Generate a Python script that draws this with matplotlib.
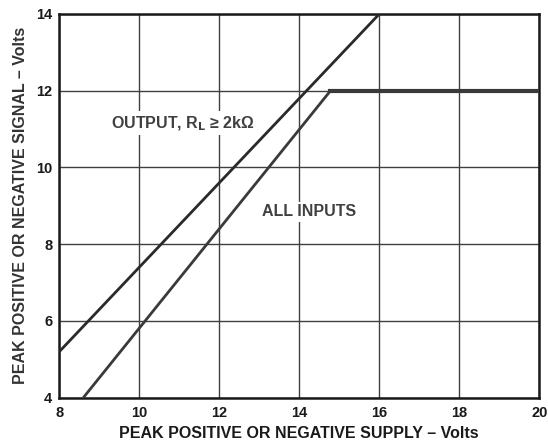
import matplotlib
matplotlib.use("Agg")
import matplotlib.pyplot as plt

# data
supply_out = [8.0, 16.0]
signal_out = [5.2, 14.0]
supply_in = [8.6, 14.78, 20.0]
signal_in = [4.0, 12.0, 12.0]

x_ticks = [8, 10, 12, 14, 16, 18, 20]
y_ticks = [4, 6, 8, 10, 12, 14]

plt.rcParams['font.family'] = ['Liberation Sans', 'DejaVu Sans']
plt.rcParams['font.weight'] = 'bold'
plt.rcParams['mathtext.default'] = 'regular'

fig = plt.figure(figsize=(5.48, 4.44), dpi=100)
ax = fig.add_axes([0.1082, 0.1043, 0.8759, 0.8642])

ax.set_xlim(8, 20)
ax.set_ylim(4, 14)
ax.set_xticks(x_ticks)
ax.set_yticks(y_ticks)
ax.grid(True, color='#404040', linewidth=1.0)
ax.set_axisbelow(True)
ax.tick_params(length=0, labelsize=10.5, colors='#1a1a1a')
ax.tick_params(axis='x', pad=6)
ax.tick_params(axis='y', pad=5)
for lab in ax.get_xticklabels() + ax.get_yticklabels():
	lab.set_fontweight('bold')
for sp in ax.spines.values():
	sp.set_linewidth(1.8)
	sp.set_color('#1a1a1a')

ax.plot(supply_out, signal_out, color='#2a2a2a', linewidth=2.0, solid_capstyle='butt', zorder=3)
ax.plot(supply_in, signal_in, color='#3a3a3a', linewidth=2.0, solid_capstyle='butt', zorder=3)
ax.plot(supply_in[1:], signal_in[1:], color='#3a3a3a', linewidth=3.0, zorder=3)

box = dict(facecolor='white', edgecolor='none', pad=2)
ax.text(11.09, 11.15, 'OUTPUT, R$_{\\bf L}$ \u2265 2k\u03a9', ha='center', va='center',
	fontsize=11.5, fontweight='bold', color='#404040', bbox=box, zorder=4)
ax.text(14.24, 8.84, 'ALL INPUTS', ha='center', va='center',
	fontsize=11.5, fontweight='bold', color='#404040', bbox=box, zorder=4)

ax.set_xlabel('PEAK POSITIVE OR NEGATIVE SUPPLY \u2013 Volts', fontsize=11.5,
	fontweight='bold', color='#1a1a1a', labelpad=4)
ax.set_ylabel('PEAK POSITIVE OR NEGATIVE SIGNAL \u2013 Volts', fontsize=11.5,
	fontweight='bold', color='#333333', labelpad=6)

fig.savefig('out.png', dpi=100)
